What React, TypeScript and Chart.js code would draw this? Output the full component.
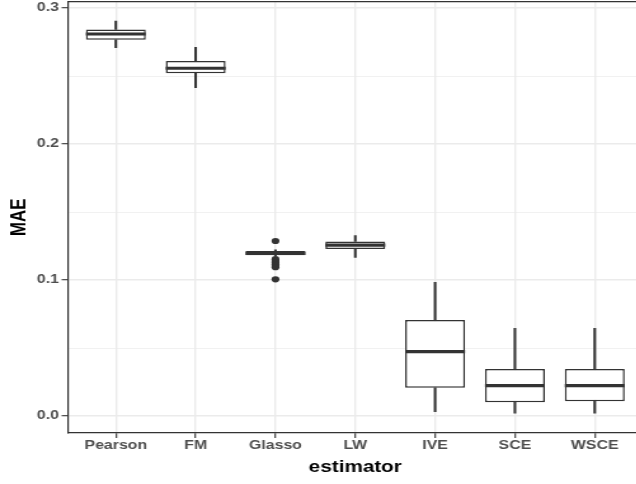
import React, { useEffect, useRef } from 'react';
import { Chart, registerables } from 'chart.js';

Chart.register(...registerables);

// ---- data ----
const categories = ['Pearson', 'FM', 'Glasso', 'LW', 'IVE', 'SCE', 'WSCE'];
const whiskerLow = [0.2708, 0.2414, 0.1175, 0.1167, 0.0032, 0.002, 0.002];
const q1 = [0.2767, 0.252, 0.1182, 0.1228, 0.0208, 0.0101, 0.0108];
const medians = [0.2809, 0.2557, 0.1196, 0.1257, 0.0473, 0.0223, 0.0223];
const q3 = [0.2843, 0.261, 0.1213, 0.1284, 0.0706, 0.0346, 0.0346];
const whiskerHigh = [0.2904, 0.2711, 0.1222, 0.1326, 0.0983, 0.0645, 0.0645];
const glassoOutliers = [0.1287, 0.1153, 0.114, 0.1128, 0.1116, 0.1104, 0.1094, 0.1005];
const yTickValues = [0, 0.05, 0.1, 0.15, 0.2, 0.25, 0.3];
const xTitle = 'estimator';
const yTitle = 'MAE';

const FONT = '"Liberation Sans", Arial, Helvetica, sans-serif';
const DARK = '#333333';
const GRID = '#EBEBEB';
const STRETCH = 1.27;
const CANVAS_W = 506;
const CANVAS_H = 484;

const isMajor = (v: number) => Math.abs(v * 10 - Math.round(v * 10)) < 1e-6;

const noPad = (s: any) => {
  s.paddingTop = 0;
  s.paddingBottom = 0;
  s.paddingLeft = 0;
  s.paddingRight = 0;
};

export default function App() {
  const ref = useRef<HTMLCanvasElement>(null);

  useEffect(() => {
    const canvas = ref.current;
    if (!canvas) return;
    const idx = categories.map((_, i) => i);
    const glassoIdx = categories.indexOf('Glasso');

    const chart = new Chart(canvas, {
      type: 'bar',
      data: {
        datasets: [
          {
            type: 'scatter',
            label: 'median',
            data: idx.map((i) => ({ x: i, y: medians[i] })),
            showLine: false,
            pointStyle: 'line',
            pointRadius: 23.55,
            pointHoverRadius: 23.55,
            pointBorderWidth: 3.2,
            pointBorderColor: DARK,
            pointBackgroundColor: DARK,
            xAxisID: 'x',
            yAxisID: 'y',
          } as any,
          {
            type: 'scatter',
            label: 'outliers',
            data: glassoOutliers.map((v) => ({ x: glassoIdx, y: v })),
            showLine: false,
            pointStyle: 'circle',
            pointRadius: 3.1,
            pointHoverRadius: 3.1,
            pointBorderWidth: 0,
            pointBackgroundColor: DARK,
            pointBorderColor: DARK,
            xAxisID: 'x',
            yAxisID: 'y',
          } as any,
          {
            type: 'bar',
            label: 'box',
            data: idx.map((i) => ({ x: i, y: [q1[i], q3[i]] })),
            backgroundColor: '#FFFFFF',
            borderColor: DARK,
            borderWidth: 1.5,
            borderSkipped: false,
            grouped: false,
            categoryPercentage: 0.75,
            barPercentage: 1,
            xAxisID: 'x',
            yAxisID: 'y',
          } as any,
          {
            type: 'bar',
            label: 'lower whisker',
            data: idx.map((i) => ({ x: i, y: [whiskerLow[i], q1[i]] })),
            backgroundColor: DARK,
            borderWidth: 0,
            barThickness: 1.4,
            grouped: false,
            xAxisID: 'x',
            yAxisID: 'y',
          } as any,
          {
            type: 'bar',
            label: 'upper whisker',
            data: idx.map((i) => ({ x: i, y: [q3[i], whiskerHigh[i]] })),
            backgroundColor: DARK,
            borderWidth: 0,
            barThickness: 1.4,
            grouped: false,
            xAxisID: 'x',
            yAxisID: 'y',
          } as any,
        ],
      },
      options: {
        responsive: false,
        animation: false,
        devicePixelRatio: 1,
        layout: { autoPadding: false, padding: { top: 1.5, left: 0, right: 0, bottom: 0 } },
        plugins: {
          legend: { display: false },
          tooltip: { enabled: false },
        },
        scales: {
          x: {
            type: 'linear',
            position: 'bottom',
            min: -0.6,
            max: 6.6,
            offset: false,
            afterBuildTicks: (s: any) => {
              s.ticks = categories.map((_, i) => ({ value: i }));
            },
            afterFit: (s: any) => {
              s.height = 51;
              noPad(s);
            },
            grid: {
              color: GRID,
              lineWidth: 1.4,
              tickColor: DARK,
              tickLength: 5,
              tickWidth: 1.1,
              offset: false,
              drawTicks: true,
            },
            border: { display: true, color: DARK, width: 1.2 },
            ticks: {
              callback: (v: any) => categories[Math.round(Number(v))] ?? '',
              color: '#4D4D4D',
              font: { family: FONT, size: 12.5, weight: 'bold' },
              padding: 0,
              autoSkip: false,
              maxRotation: 0,
              minRotation: 0,
              includeBounds: false,
            },
            title: {
              display: true,
              text: xTitle,
              color: '#000000',
              font: { family: FONT, size: 16.3, weight: 'bold' },
              padding: { top: 0, bottom: 6.3 },
            },
          },
          x2: {
            type: 'linear',
            position: 'top',
            min: -0.6,
            max: 6.6,
            afterFit: (s: any) => {
              s.height = 0;
              noPad(s);
            },
            grid: { display: false, drawTicks: false },
            ticks: { display: false },
            border: { display: true, color: DARK, width: 1.2 },
          },
          y: {
            type: 'linear',
            position: 'left',
            min: -0.0125,
            max: 0.3048,
            afterBuildTicks: (s: any) => {
              s.ticks = yTickValues.map((v) => ({ value: v }));
            },
            afterFit: (s: any) => {
              s.width = 53.5;
              noPad(s);
            },
            grid: {
              color: GRID,
              lineWidth: (c: any) => (c.tick && isMajor(c.tick.value) ? 1.4 : 0.7),
              tickColor: (c: any) => (c.tick && isMajor(c.tick.value) ? DARK : 'rgba(0,0,0,0)'),
              tickLength: 5,
              tickWidth: 1.1,
            },
            border: { display: true, color: DARK, width: 1.2 },
            ticks: {
              callback: (v: any) => (isMajor(Number(v)) ? Number(v).toFixed(1) : ''),
              color: '#4D4D4D',
              font: { family: FONT, size: 12.5, weight: 'bold' },
              padding: 2,
              autoSkip: false,
              includeBounds: false,
            },
            title: {
              display: true,
              text: yTitle,
              color: '#000000',
              font: { family: FONT, size: 16.8, weight: 'bold' },
              padding: { top: 5.3, bottom: 0 },
            },
          },
        },
      } as any,
    });

    return () => {
      chart.destroy();
    };
  }, []);

  return (
    <div
      style={{
        position: 'fixed',
        left: 0,
        top: 0,
        width: 636,
        height: 484,
        overflow: 'hidden',
        background: '#FFFFFF',
      }}
    >
      <div
        style={{
          width: CANVAS_W,
          height: CANVAS_H,
          transform: `scaleX(${STRETCH})`,
          transformOrigin: '0 0',
        }}
      >
        <canvas
          ref={ref}
          width={CANVAS_W}
          height={CANVAS_H}
          style={{ display: 'block', width: CANVAS_W, height: CANVAS_H }}
        />
      </div>
    </div>
  );
}
